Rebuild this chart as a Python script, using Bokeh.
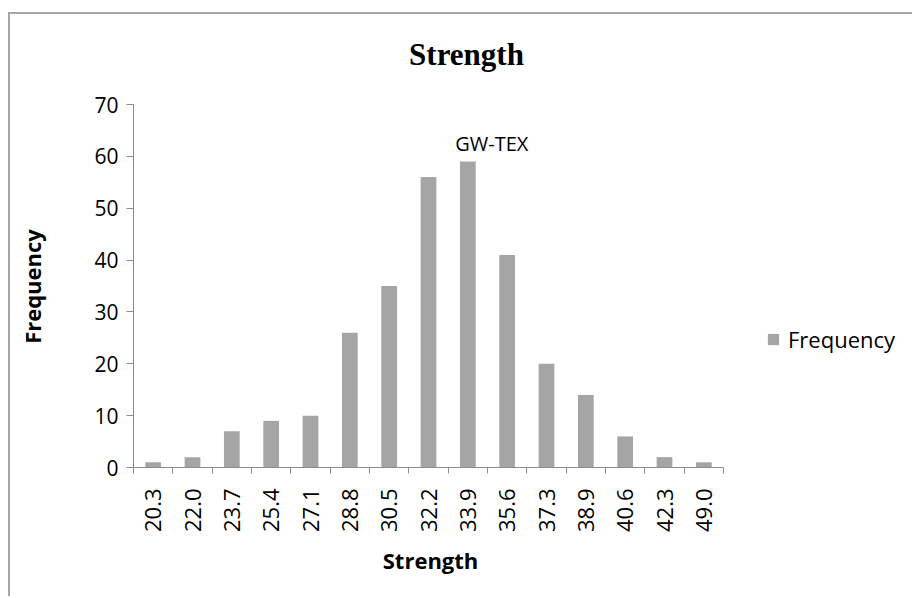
import math
from bokeh.plotting import figure
from bokeh.models import (FixedTicker, Legend, LegendItem, Label,
                          Range1d, ColumnDataSource)
from bokeh.embed import file_html
from bokeh.resources import INLINE

# Histogram bins (upper bin edge) and counts
bins = ["20.3", "22.0", "23.7", "25.4", "27.1", "28.8", "30.5", "32.2",
        "33.9", "35.6", "37.3", "38.9", "40.6", "42.3", "49.0"]
counts = [1, 2, 7, 9, 10, 26, 35, 56, 59, 41, 20, 14, 6, 2, 1]
y_ticks = [0, 10, 20, 30, 40, 50, 60, 70]
y_max = 70
series_name = "Frequency"
note_text = "GW-TEX"

n = len(bins)
centers = [i + 0.5 for i in range(n)]
edges = [float(i) for i in range(n + 1)]

BAR = "#a5a5a5"
AXIS = "#8c8c8c"
FONT = "Open Sans"

W, H = 904, 584
LEFT, BOTTOM = 123, 131            # where the two axes meet, in canvas px
X_AXIS_PX = 590                    # drawn length of the category axis
Y_AXIS_PX = 363                    # drawn length of the value axis
px_x = X_AXIS_PX / n
px_y = Y_AXIS_PX / y_max
# the frame fills the whole canvas; both axes are pinned where they meet,
# leaving room around them for the titles and the legend
x_start, x_end = -LEFT / px_x, (W - LEFT) / px_x
y_start, y_end = -BOTTOM / px_y, (H - BOTTOM) / px_y

p = figure(width=W, height=H, output_backend="svg", toolbar_location=None,
           x_range=Range1d(x_start, x_end), y_range=Range1d(y_start, y_end),
           min_border_left=0, min_border_right=0, min_border_top=0,
           min_border_bottom=0)
# chart area frame: only its top and left edges fall inside the page
p.styles = {"margin-left": "8px", "margin-top": "12px",
            "border-left": "2px solid #a6a6a6",
            "border-top": "2px solid #a6a6a6"}
p.outline_line_color = None
p.xgrid.visible = False
p.ygrid.visible = False
p.background_fill_color = "white"
p.border_fill_color = "white"

src = ColumnDataSource(dict(x=centers, top=counts, label=bins))
bars = p.vbar(x="x", top="top", width=0.4, source=src, fill_color=BAR,
              line_color=None)

# y axis, pinned at the start of the category axis
ya = p.yaxis[0]
ya.fixed_location = 0
ya.bounds = (0, y_max)
ya.ticker = FixedTicker(ticks=y_ticks)
ya.axis_line_color = AXIS
ya.major_tick_line_color = AXIS
ya.major_tick_out = 7
ya.major_tick_in = 0
ya.minor_tick_line_color = None
ya.major_label_text_font = FONT
ya.major_label_text_font_size = "21px"
ya.major_label_text_color = "black"
ya.major_label_standoff = 8

# x axis, pinned at zero: labels at bin centres, tick marks between bins
xa = p.xaxis[0]
xa.fixed_location = 0
xa.bounds = (0, n)
xa.ticker = FixedTicker(ticks=centers, minor_ticks=edges)
xa.major_label_overrides = {c: b for c, b in zip(centers, bins)}
xa.major_label_orientation = math.pi / 2
xa.axis_line_color = AXIS
xa.major_tick_out = 0
xa.major_tick_in = 0
xa.minor_tick_line_color = AXIS
xa.minor_tick_out = 6
xa.minor_tick_in = 0
xa.major_label_text_font = FONT
xa.major_label_text_font_size = "22px"
xa.major_label_text_color = "black"
xa.major_label_standoff = 15

# axis titles
p.add_layout(Label(x=21, y=312, x_units="screen", y_units="screen",
                   text="Frequency", angle=math.pi / 2, text_align="center",
                   text_baseline="middle", text_font=FONT,
                   text_font_style="bold", text_font_size="22px",
                   text_color="black"))
p.add_layout(Label(x=420, y=39, x_units="screen", y_units="screen",
                   text="Strength", text_align="center",
                   text_baseline="middle", text_font=FONT,
                   text_font_style="bold", text_font_size="22px",
                   text_color="black"))

# chart title
p.add_layout(Label(x=456, y=544, x_units="screen", y_units="screen",
                   text="Strength", text_align="center",
                   text_baseline="alphabetic", text_font="Liberation Serif",
                   text_font_style="bold", text_font_size="31px",
                   text_color="black"))

# note above the tallest bar
peak = counts.index(max(counts))
p.add_layout(Label(x=centers[peak], y=counts[peak], text=note_text,
                   x_offset=24, y_offset=5, text_align="center",
                   text_baseline="bottom", text_font=FONT,
                   text_font_size="20px", text_color="black"))

# legend to the right of the bars
legend = Legend(items=[LegendItem(label=series_name, renderers=[bars])],
                location=(756, 244), orientation="vertical",
                background_fill_alpha=0, border_line_color=None,
                glyph_width=14, glyph_height=14, label_standoff=8,
                padding=0, margin=0, label_text_font=FONT,
                label_text_font_size="22px", label_text_color="black")
p.add_layout(legend, "center")

open("out.html", "w").write(file_html(p, INLINE))
